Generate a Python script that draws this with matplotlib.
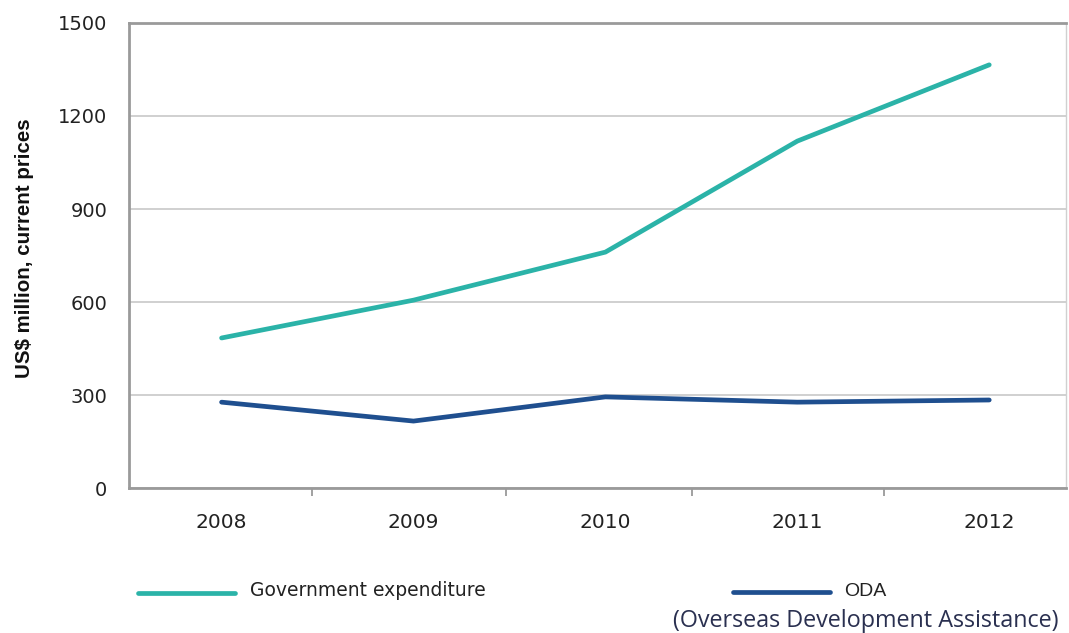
import matplotlib.pyplot as plt
from matplotlib.lines import Line2D

years = ['2008', '2009', '2010', '2011', '2012']
gov_exp = [484, 606, 761, 1119, 1365]
oda = [277, 216, 294, 277, 284]

teal = '#2bb3a8'
navy = '#1f4f8f'
grid = '#c8c8c8'

fig = plt.figure(figsize=(10.69, 6.33), dpi=100)
ax = fig.add_axes([0.1211, 0.229, 0.8761, 0.7347])

x = list(range(len(years)))
ax.plot(x, gov_exp, color=teal, lw=3.4, solid_capstyle='round')
ax.plot(x, oda, color=navy, lw=3.4, solid_capstyle='round')

ax.set_xlim(-0.48, 4.40)
ax.set_ylim(0, 1500)
ax.set_yticks([0, 300, 600, 900, 1200, 1500])
ax.yaxis.grid(True, color=grid, lw=1.2)
ax.set_axisbelow(True)

ax.set_xticks(x)
ax.set_xticklabels(years)
ax.set_xticks([0.47, 1.48, 2.45, 3.45], minor=True)
ax.tick_params(axis='x', which='major', length=0, pad=18, labelsize=14.5, labelcolor='#222222')
ax.tick_params(axis='x', which='minor', length=6, width=1.3, color='#9a9a9a', direction='out')
ax.tick_params(axis='y', length=0, pad=16, labelsize=14, labelcolor='#222222')

for side in ['left', 'bottom', 'top']:
    ax.spines[side].set_color('#9a9a9a')
    ax.spines[side].set_linewidth(2)
ax.spines['right'].set_color('#d0d0d0')
ax.spines['right'].set_linewidth(1)

ax.set_ylabel('US$ million, current prices', fontsize=14.8, fontweight='bold',
              color='#111111', family='Liberation Sans')
ax.yaxis.set_label_coords(-0.102, 0.515)

# legend drawn below the plot
fig.add_artist(Line2D([138 / 1069, 235 / 1069], [1 - 593 / 633] * 2, color=teal, lw=3.4,
                      solid_capstyle='round'))
fig.text(250 / 1069, 1 - 591 / 633, 'Government expenditure', fontsize=13.5,
         va='center', ha='left', color='#222222')
fig.add_artist(Line2D([733 / 1069, 830 / 1069], [1 - 592 / 633] * 2, color=navy, lw=3.4,
                      solid_capstyle='round'))
fig.text(844 / 1069, 1 - 591 / 633, 'ODA', fontsize=14, va='center', ha='left',
         color='#222222', family='Liberation Sans')
fig.text(673 / 1069, 1 - 621 / 633, '(Overseas Development Assistance)', fontsize=16.8,
         va='center', ha='left', color='#2a3050', family='Open Sans')

fig.savefig('out.png', dpi=100)
